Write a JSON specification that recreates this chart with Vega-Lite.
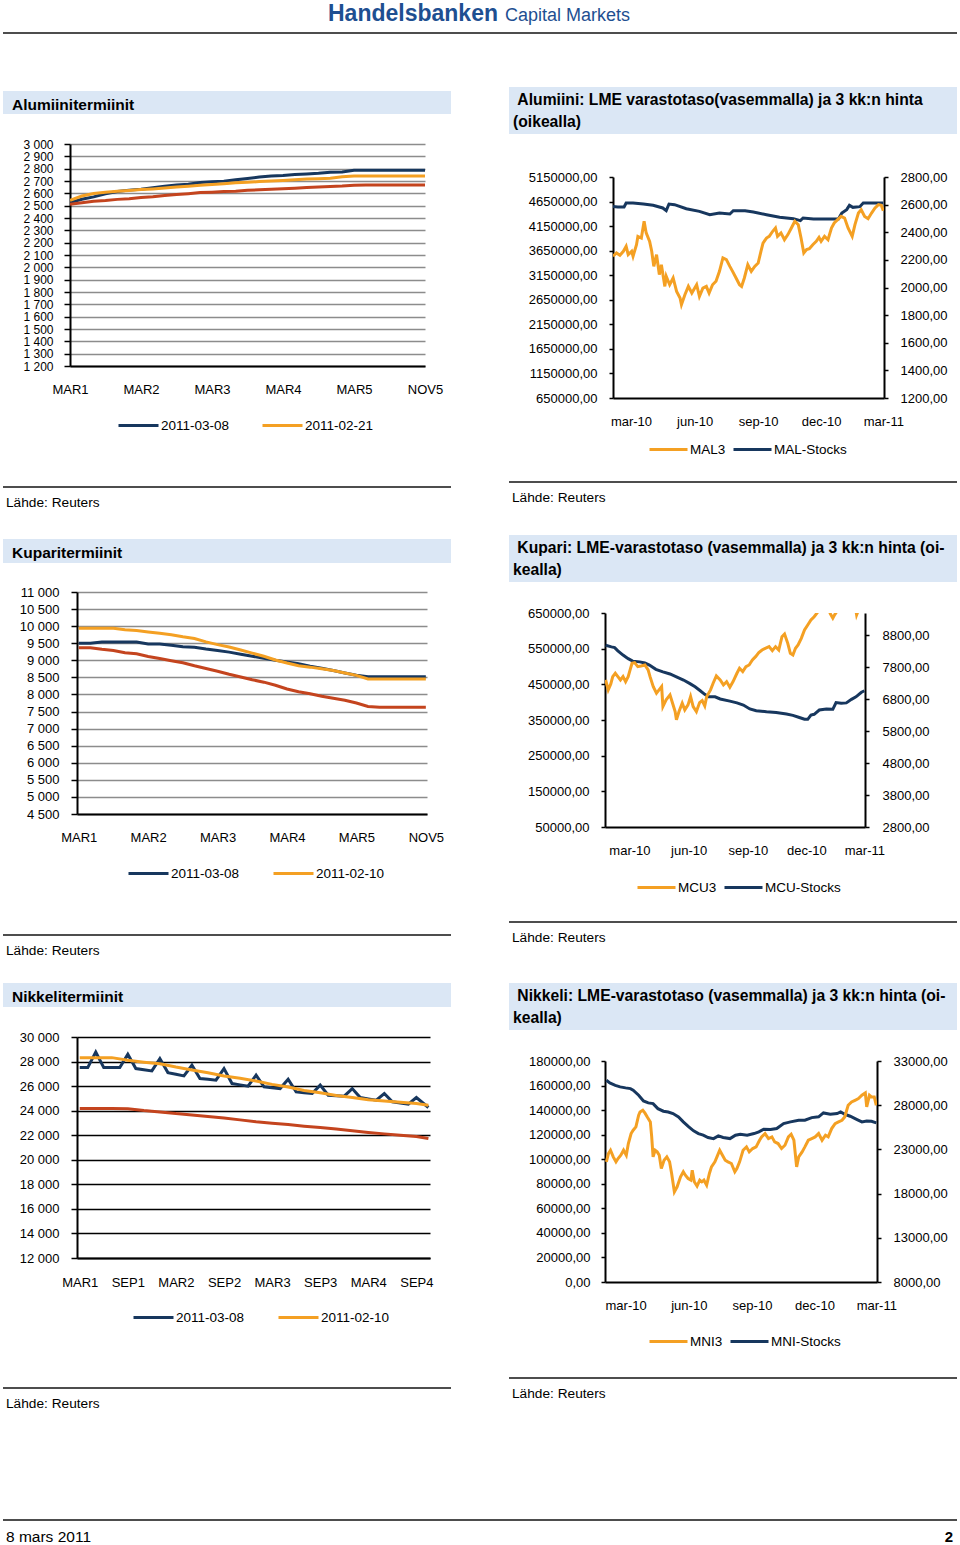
{
"$schema": "https://vega.github.io/schema/vega-lite/v6.json",
"padding": 0,
"background": "white",
"spacing": 0,
"bounds": "flush",
"resolve": {"scale": {"color": "independent"}, "legend": {"color": "independent"}},
"config": {
  "view": {"stroke": null},
  "font": "Liberation Sans",
  "axis": {"labelFont": "Liberation Sans", "labelColor": "#000", "labelFontSize": 13, "domainColor": "#000", "domainWidth": 2, "tickColor": "#000", "tickWidth": 1.5, "labelFlush": false, "labelOverlap": false, "grid": false},
  "legend": {"labelFont": "Liberation Sans", "labelFontSize": 13.5, "labelColor": "#000", "symbolType": "stroke", "symbolStrokeWidth": 3, "padding": 0, "labelOffset": 1, "orient": "none", "direction": "horizontal"},
  "title": {"font": "Liberation Sans", "color": "#000", "orient": "bottom", "anchor": "start", "baseline": "top"}
},
"datasets": {
  "alL": [
    {"i":0,"v":2525,"s":"2011-03-08"},{"i":2,"v":2552,"s":"2011-03-08"},{"i":4,"v":2571,"s":"2011-03-08"},{"i":6,"v":2596,"s":"2011-03-08"},{"i":8,"v":2614,"s":"2011-03-08"},{"i":10,"v":2626,"s":"2011-03-08"},{"i":12,"v":2634,"s":"2011-03-08"},{"i":14,"v":2645,"s":"2011-03-08"},{"i":16,"v":2657,"s":"2011-03-08"},{"i":18,"v":2667,"s":"2011-03-08"},{"i":20,"v":2674,"s":"2011-03-08"},{"i":22,"v":2687,"s":"2011-03-08"},{"i":24,"v":2694,"s":"2011-03-08"},{"i":26,"v":2699,"s":"2011-03-08"},{"i":28,"v":2710,"s":"2011-03-08"},{"i":30,"v":2720,"s":"2011-03-08"},{"i":32,"v":2732,"s":"2011-03-08"},{"i":34,"v":2741,"s":"2011-03-08"},{"i":36,"v":2745,"s":"2011-03-08"},{"i":38,"v":2752,"s":"2011-03-08"},{"i":40,"v":2757,"s":"2011-03-08"},{"i":42,"v":2762,"s":"2011-03-08"},{"i":44,"v":2770,"s":"2011-03-08"},{"i":46,"v":2773,"s":"2011-03-08"},{"i":48,"v":2787,"s":"2011-03-08"},{"i":60,"v":2787,"s":"2011-03-08"},
    {"i":0,"v":2544,"s":"2011-02-21"},{"i":2,"v":2578,"s":"2011-02-21"},{"i":4,"v":2598,"s":"2011-02-21"},{"i":6,"v":2609,"s":"2011-02-21"},{"i":8,"v":2617,"s":"2011-02-21"},{"i":10,"v":2623,"s":"2011-02-21"},{"i":12,"v":2631,"s":"2011-02-21"},{"i":14,"v":2636,"s":"2011-02-21"},{"i":16,"v":2643,"s":"2011-02-21"},{"i":18,"v":2651,"s":"2011-02-21"},{"i":20,"v":2657,"s":"2011-02-21"},{"i":22,"v":2665,"s":"2011-02-21"},{"i":24,"v":2671,"s":"2011-02-21"},{"i":26,"v":2677,"s":"2011-02-21"},{"i":28,"v":2685,"s":"2011-02-21"},{"i":30,"v":2690,"s":"2011-02-21"},{"i":32,"v":2695,"s":"2011-02-21"},{"i":34,"v":2700,"s":"2011-02-21"},{"i":36,"v":2705,"s":"2011-02-21"},{"i":38,"v":2711,"s":"2011-02-21"},{"i":40,"v":2717,"s":"2011-02-21"},{"i":42,"v":2719,"s":"2011-02-21"},{"i":44,"v":2723,"s":"2011-02-21"},{"i":46,"v":2735,"s":"2011-02-21"},{"i":48,"v":2741,"s":"2011-02-21"},{"i":60,"v":2741,"s":"2011-02-21"},
    {"i":0,"v":2511,"s":"ref"},{"i":2,"v":2524,"s":"ref"},{"i":4,"v":2535,"s":"ref"},{"i":6,"v":2541,"s":"ref"},{"i":8,"v":2551,"s":"ref"},{"i":10,"v":2557,"s":"ref"},{"i":12,"v":2566,"s":"ref"},{"i":14,"v":2572,"s":"ref"},{"i":16,"v":2582,"s":"ref"},{"i":18,"v":2590,"s":"ref"},{"i":20,"v":2597,"s":"ref"},{"i":22,"v":2606,"s":"ref"},{"i":24,"v":2609,"s":"ref"},{"i":26,"v":2614,"s":"ref"},{"i":28,"v":2617,"s":"ref"},{"i":30,"v":2625,"s":"ref"},{"i":32,"v":2629,"s":"ref"},{"i":34,"v":2634,"s":"ref"},{"i":36,"v":2638,"s":"ref"},{"i":38,"v":2642,"s":"ref"},{"i":40,"v":2647,"s":"ref"},{"i":42,"v":2652,"s":"ref"},{"i":44,"v":2655,"s":"ref"},{"i":46,"v":2659,"s":"ref"},{"i":48,"v":2666,"s":"ref"},{"i":50,"v":2668,"s":"ref"},{"i":60,"v":2668,"s":"ref"}
  ],
  "cuL": [
    {"i":0,"v":9497,"s":"2011-03-08"},{"i":2,"v":9497,"s":"2011-03-08"},{"i":4,"v":9536,"s":"2011-03-08"},{"i":10,"v":9536,"s":"2011-03-08"},{"i":12,"v":9477,"s":"2011-03-08"},{"i":14,"v":9477,"s":"2011-03-08"},{"i":16,"v":9440,"s":"2011-03-08"},{"i":18,"v":9400,"s":"2011-03-08"},{"i":20,"v":9380,"s":"2011-03-08"},{"i":22,"v":9330,"s":"2011-03-08"},{"i":24,"v":9290,"s":"2011-03-08"},{"i":26,"v":9240,"s":"2011-03-08"},{"i":28,"v":9180,"s":"2011-03-08"},{"i":30,"v":9120,"s":"2011-03-08"},{"i":32,"v":9060,"s":"2011-03-08"},{"i":34,"v":9000,"s":"2011-03-08"},{"i":36,"v":8950,"s":"2011-03-08"},{"i":38,"v":8900,"s":"2011-03-08"},{"i":40,"v":8830,"s":"2011-03-08"},{"i":42,"v":8770,"s":"2011-03-08"},{"i":44,"v":8700,"s":"2011-03-08"},{"i":46,"v":8630,"s":"2011-03-08"},{"i":48,"v":8560,"s":"2011-03-08"},{"i":50,"v":8521,"s":"2011-03-08"},{"i":60,"v":8521,"s":"2011-03-08"},
    {"i":0,"v":9936,"s":"2011-02-10"},{"i":6,"v":9936,"s":"2011-02-10"},{"i":8,"v":9895,"s":"2011-02-10"},{"i":10,"v":9870,"s":"2011-02-10"},{"i":12,"v":9830,"s":"2011-02-10"},{"i":14,"v":9790,"s":"2011-02-10"},{"i":16,"v":9750,"s":"2011-02-10"},{"i":18,"v":9690,"s":"2011-02-10"},{"i":20,"v":9640,"s":"2011-02-10"},{"i":22,"v":9540,"s":"2011-02-10"},{"i":24,"v":9460,"s":"2011-02-10"},{"i":26,"v":9390,"s":"2011-02-10"},{"i":28,"v":9300,"s":"2011-02-10"},{"i":30,"v":9210,"s":"2011-02-10"},{"i":32,"v":9120,"s":"2011-02-10"},{"i":34,"v":9010,"s":"2011-02-10"},{"i":36,"v":8920,"s":"2011-02-10"},{"i":38,"v":8840,"s":"2011-02-10"},{"i":40,"v":8800,"s":"2011-02-10"},{"i":42,"v":8750,"s":"2011-02-10"},{"i":44,"v":8700,"s":"2011-02-10"},{"i":46,"v":8630,"s":"2011-02-10"},{"i":48,"v":8560,"s":"2011-02-10"},{"i":50,"v":8453,"s":"2011-02-10"},{"i":60,"v":8453,"s":"2011-02-10"},
    {"i":0,"v":9370,"s":"ref"},{"i":2,"v":9370,"s":"ref"},{"i":4,"v":9321,"s":"ref"},{"i":6,"v":9290,"s":"ref"},{"i":8,"v":9224,"s":"ref"},{"i":10,"v":9190,"s":"ref"},{"i":12,"v":9110,"s":"ref"},{"i":14,"v":9050,"s":"ref"},{"i":16,"v":8990,"s":"ref"},{"i":18,"v":8930,"s":"ref"},{"i":20,"v":8840,"s":"ref"},{"i":22,"v":8760,"s":"ref"},{"i":24,"v":8680,"s":"ref"},{"i":26,"v":8590,"s":"ref"},{"i":28,"v":8510,"s":"ref"},{"i":30,"v":8430,"s":"ref"},{"i":32,"v":8360,"s":"ref"},{"i":34,"v":8270,"s":"ref"},{"i":36,"v":8160,"s":"ref"},{"i":38,"v":8080,"s":"ref"},{"i":40,"v":8020,"s":"ref"},{"i":42,"v":7950,"s":"ref"},{"i":44,"v":7890,"s":"ref"},{"i":46,"v":7830,"s":"ref"},{"i":48,"v":7750,"s":"ref"},{"i":50,"v":7650,"s":"ref"},{"i":52,"v":7623,"s":"ref"},{"i":60,"v":7623,"s":"ref"}
  ],
  "niL": [
    {"i":0,"v":27510,"s":"2011-03-08"},{"i":1,"v":27510,"s":"2011-03-08"},{"i":2,"v":28780,"s":"2011-03-08"},{"i":3,"v":27510,"s":"2011-03-08"},{"i":5,"v":27510,"s":"2011-03-08"},{"i":6,"v":28590,"s":"2011-03-08"},{"i":7,"v":27430,"s":"2011-03-08"},{"i":8,"v":27330,"s":"2011-03-08"},{"i":9,"v":27240,"s":"2011-03-08"},{"i":10,"v":28240,"s":"2011-03-08"},{"i":11,"v":27100,"s":"2011-03-08"},{"i":12,"v":26970,"s":"2011-03-08"},{"i":13,"v":26830,"s":"2011-03-08"},{"i":14,"v":27700,"s":"2011-03-08"},{"i":15,"v":26620,"s":"2011-03-08"},{"i":16,"v":26550,"s":"2011-03-08"},{"i":17,"v":26480,"s":"2011-03-08"},{"i":18,"v":27430,"s":"2011-03-08"},{"i":19,"v":26210,"s":"2011-03-08"},{"i":20,"v":26100,"s":"2011-03-08"},{"i":21,"v":25990,"s":"2011-03-08"},{"i":22,"v":26890,"s":"2011-03-08"},{"i":23,"v":25940,"s":"2011-03-08"},{"i":24,"v":25870,"s":"2011-03-08"},{"i":25,"v":25800,"s":"2011-03-08"},{"i":26,"v":26560,"s":"2011-03-08"},{"i":27,"v":25530,"s":"2011-03-08"},{"i":28,"v":25460,"s":"2011-03-08"},{"i":29,"v":25400,"s":"2011-03-08"},{"i":30,"v":26080,"s":"2011-03-08"},{"i":31,"v":25260,"s":"2011-03-08"},{"i":32,"v":25220,"s":"2011-03-08"},{"i":33,"v":25180,"s":"2011-03-08"},{"i":34,"v":25800,"s":"2011-03-08"},{"i":35,"v":25070,"s":"2011-03-08"},{"i":36,"v":24960,"s":"2011-03-08"},{"i":37,"v":24860,"s":"2011-03-08"},{"i":38,"v":25400,"s":"2011-03-08"},{"i":39,"v":24720,"s":"2011-03-08"},{"i":40,"v":24620,"s":"2011-03-08"},{"i":41,"v":24530,"s":"2011-03-08"},{"i":42,"v":25070,"s":"2011-03-08"},{"i":43.5,"v":24260,"s":"2011-03-08"},
    {"i":0,"v":28320,"s":"2011-02-10"},{"i":4,"v":28320,"s":"2011-02-10"},{"i":6,"v":28100,"s":"2011-02-10"},{"i":8,"v":27950,"s":"2011-02-10"},{"i":10,"v":27820,"s":"2011-02-10"},{"i":12,"v":27550,"s":"2011-02-10"},{"i":14,"v":27320,"s":"2011-02-10"},{"i":16,"v":27090,"s":"2011-02-10"},{"i":18,"v":26820,"s":"2011-02-10"},{"i":20,"v":26640,"s":"2011-02-10"},{"i":22,"v":26420,"s":"2011-02-10"},{"i":24,"v":26140,"s":"2011-02-10"},{"i":26,"v":25920,"s":"2011-02-10"},{"i":28,"v":25640,"s":"2011-02-10"},{"i":30,"v":25460,"s":"2011-02-10"},{"i":32,"v":25230,"s":"2011-02-10"},{"i":34,"v":25080,"s":"2011-02-10"},{"i":36,"v":24890,"s":"2011-02-10"},{"i":38,"v":24780,"s":"2011-02-10"},{"i":40,"v":24680,"s":"2011-02-10"},{"i":42,"v":24580,"s":"2011-02-10"},{"i":43.5,"v":24450,"s":"2011-02-10"},
    {"i":0,"v":24180,"s":"ref"},{"i":4,"v":24180,"s":"ref"},{"i":6,"v":24150,"s":"ref"},{"i":8,"v":24010,"s":"ref"},{"i":10,"v":23900,"s":"ref"},{"i":12,"v":23760,"s":"ref"},{"i":14,"v":23650,"s":"ref"},{"i":16,"v":23530,"s":"ref"},{"i":18,"v":23400,"s":"ref"},{"i":20,"v":23250,"s":"ref"},{"i":22,"v":23100,"s":"ref"},{"i":24,"v":22980,"s":"ref"},{"i":26,"v":22880,"s":"ref"},{"i":28,"v":22740,"s":"ref"},{"i":30,"v":22620,"s":"ref"},{"i":32,"v":22500,"s":"ref"},{"i":34,"v":22370,"s":"ref"},{"i":36,"v":22230,"s":"ref"},{"i":38,"v":22110,"s":"ref"},{"i":40,"v":22000,"s":"ref"},{"i":42,"v":21900,"s":"ref"},{"i":43.5,"v":21740,"s":"ref"}
  ],
  "alR": [
    {"d":"2010-02-03","v":4550000,"s":"MAL-Stocks"},{"d":"2010-02-10","v":4539000,"s":"MAL-Stocks"},{"d":"2010-02-19","v":4540000,"s":"MAL-Stocks"},{"d":"2010-02-22","v":4620000,"s":"MAL-Stocks"},{"d":"2010-03-04","v":4620000,"s":"MAL-Stocks"},{"d":"2010-03-19","v":4600000,"s":"MAL-Stocks"},{"d":"2010-04-02","v":4573000,"s":"MAL-Stocks"},{"d":"2010-04-16","v":4519000,"s":"MAL-Stocks"},{"d":"2010-04-21","v":4464000,"s":"MAL-Stocks"},{"d":"2010-04-25","v":4600000,"s":"MAL-Stocks"},{"d":"2010-05-03","v":4587000,"s":"MAL-Stocks"},{"d":"2010-05-20","v":4505000,"s":"MAL-Stocks"},{"d":"2010-06-08","v":4451000,"s":"MAL-Stocks"},{"d":"2010-06-23","v":4383000,"s":"MAL-Stocks"},{"d":"2010-07-07","v":4417000,"s":"MAL-Stocks"},{"d":"2010-07-22","v":4397000,"s":"MAL-Stocks"},{"d":"2010-07-27","v":4464000,"s":"MAL-Stocks"},{"d":"2010-08-13","v":4464000,"s":"MAL-Stocks"},{"d":"2010-08-25","v":4437000,"s":"MAL-Stocks"},{"d":"2010-09-13","v":4383000,"s":"MAL-Stocks"},{"d":"2010-10-02","v":4329000,"s":"MAL-Stocks"},{"d":"2010-10-22","v":4302000,"s":"MAL-Stocks"},{"d":"2010-11-01","v":4261000,"s":"MAL-Stocks"},{"d":"2010-11-05","v":4315000,"s":"MAL-Stocks"},{"d":"2010-11-20","v":4295000,"s":"MAL-Stocks"},{"d":"2010-12-26","v":4295000,"s":"MAL-Stocks"},{"d":"2010-12-31","v":4417000,"s":"MAL-Stocks"},{"d":"2011-01-07","v":4485000,"s":"MAL-Stocks"},{"d":"2011-01-11","v":4573000,"s":"MAL-Stocks"},{"d":"2011-01-16","v":4532000,"s":"MAL-Stocks"},{"d":"2011-01-26","v":4546000,"s":"MAL-Stocks"},{"d":"2011-01-31","v":4620000,"s":"MAL-Stocks"},{"d":"2011-03-01","v":4620000,"s":"MAL-Stocks"},
    {"d":"2010-02-03","v":2226,"s":"MAL3"},{"d":"2010-02-08","v":2250,"s":"MAL3"},{"d":"2010-02-13","v":2233,"s":"MAL3"},{"d":"2010-02-18","v":2262,"s":"MAL3"},{"d":"2010-02-22","v":2298,"s":"MAL3"},{"d":"2010-02-25","v":2238,"s":"MAL3"},{"d":"2010-03-02","v":2262,"s":"MAL3"},{"d":"2010-03-04","v":2226,"s":"MAL3"},{"d":"2010-03-09","v":2310,"s":"MAL3"},{"d":"2010-03-11","v":2370,"s":"MAL3"},{"d":"2010-03-16","v":2358,"s":"MAL3"},{"d":"2010-03-20","v":2479,"s":"MAL3"},{"d":"2010-03-23","v":2395,"s":"MAL3"},{"d":"2010-03-28","v":2334,"s":"MAL3"},{"d":"2010-03-31","v":2262,"s":"MAL3"},{"d":"2010-04-03","v":2153,"s":"MAL3"},{"d":"2010-04-07","v":2238,"s":"MAL3"},{"d":"2010-04-11","v":2093,"s":"MAL3"},{"d":"2010-04-14","v":2165,"s":"MAL3"},{"d":"2010-04-19","v":2008,"s":"MAL3"},{"d":"2010-04-21","v":2081,"s":"MAL3"},{"d":"2010-04-26","v":2020,"s":"MAL3"},{"d":"2010-05-01","v":2069,"s":"MAL3"},{"d":"2010-05-06","v":1972,"s":"MAL3"},{"d":"2010-05-11","v":1924,"s":"MAL3"},{"d":"2010-05-13","v":1876,"s":"MAL3"},{"d":"2010-05-18","v":1948,"s":"MAL3"},{"d":"2010-05-23","v":2008,"s":"MAL3"},{"d":"2010-05-28","v":1960,"s":"MAL3"},{"d":"2010-06-04","v":2020,"s":"MAL3"},{"d":"2010-06-08","v":1936,"s":"MAL3"},{"d":"2010-06-13","v":1996,"s":"MAL3"},{"d":"2010-06-18","v":2008,"s":"MAL3"},{"d":"2010-06-22","v":1960,"s":"MAL3"},{"d":"2010-06-27","v":2020,"s":"MAL3"},{"d":"2010-07-02","v":2045,"s":"MAL3"},{"d":"2010-07-07","v":2117,"s":"MAL3"},{"d":"2010-07-12","v":2214,"s":"MAL3"},{"d":"2010-07-17","v":2202,"s":"MAL3"},{"d":"2010-07-22","v":2153,"s":"MAL3"},{"d":"2010-07-26","v":2117,"s":"MAL3"},{"d":"2010-07-31","v":2069,"s":"MAL3"},{"d":"2010-08-05","v":2020,"s":"MAL3"},{"d":"2010-08-08","v":2008,"s":"MAL3"},{"d":"2010-08-12","v":2069,"s":"MAL3"},{"d":"2010-08-17","v":2165,"s":"MAL3"},{"d":"2010-08-22","v":2117,"s":"MAL3"},{"d":"2010-08-27","v":2153,"s":"MAL3"},{"d":"2010-09-01","v":2177,"s":"MAL3"},{"d":"2010-09-05","v":2262,"s":"MAL3"},{"d":"2010-09-08","v":2322,"s":"MAL3"},{"d":"2010-09-13","v":2358,"s":"MAL3"},{"d":"2010-09-17","v":2370,"s":"MAL3"},{"d":"2010-09-22","v":2407,"s":"MAL3"},{"d":"2010-09-26","v":2431,"s":"MAL3"},{"d":"2010-09-29","v":2370,"s":"MAL3"},{"d":"2010-10-04","v":2395,"s":"MAL3"},{"d":"2010-10-09","v":2346,"s":"MAL3"},{"d":"2010-10-14","v":2383,"s":"MAL3"},{"d":"2010-10-19","v":2431,"s":"MAL3"},{"d":"2010-10-24","v":2479,"s":"MAL3"},{"d":"2010-10-29","v":2455,"s":"MAL3"},{"d":"2010-11-02","v":2358,"s":"MAL3"},{"d":"2010-11-06","v":2250,"s":"MAL3"},{"d":"2010-11-10","v":2274,"s":"MAL3"},{"d":"2010-11-14","v":2281,"s":"MAL3"},{"d":"2010-11-19","v":2310,"s":"MAL3"},{"d":"2010-11-24","v":2334,"s":"MAL3"},{"d":"2010-11-28","v":2363,"s":"MAL3"},{"d":"2010-12-01","v":2334,"s":"MAL3"},{"d":"2010-12-06","v":2370,"s":"MAL3"},{"d":"2010-12-11","v":2346,"s":"MAL3"},{"d":"2010-12-16","v":2431,"s":"MAL3"},{"d":"2010-12-20","v":2467,"s":"MAL3"},{"d":"2010-12-25","v":2491,"s":"MAL3"},{"d":"2010-12-30","v":2515,"s":"MAL3"},{"d":"2011-01-04","v":2503,"s":"MAL3"},{"d":"2011-01-09","v":2431,"s":"MAL3"},{"d":"2011-01-15","v":2370,"s":"MAL3"},{"d":"2011-01-19","v":2455,"s":"MAL3"},{"d":"2011-01-24","v":2539,"s":"MAL3"},{"d":"2011-01-28","v":2563,"s":"MAL3"},{"d":"2011-02-02","v":2515,"s":"MAL3"},{"d":"2011-02-07","v":2498,"s":"MAL3"},{"d":"2011-02-12","v":2539,"s":"MAL3"},{"d":"2011-02-17","v":2576,"s":"MAL3"},{"d":"2011-02-22","v":2600,"s":"MAL3"},{"d":"2011-02-26","v":2595,"s":"MAL3"},{"d":"2011-03-01","v":2556,"s":"MAL3"}
  ],
  "cuR": [
    {"d":"2010-01-23","v":559600,"s":"MCU-Stocks"},{"d":"2010-02-01","v":555000,"s":"MCU-Stocks"},{"d":"2010-02-06","v":553000,"s":"MCU-Stocks"},{"d":"2010-02-11","v":544000,"s":"MCU-Stocks"},{"d":"2010-02-19","v":532000,"s":"MCU-Stocks"},{"d":"2010-02-27","v":522000,"s":"MCU-Stocks"},{"d":"2010-03-06","v":515000,"s":"MCU-Stocks"},{"d":"2010-03-17","v":513000,"s":"MCU-Stocks"},{"d":"2010-03-25","v":510000,"s":"MCU-Stocks"},{"d":"2010-04-01","v":504000,"s":"MCU-Stocks"},{"d":"2010-04-11","v":492000,"s":"MCU-Stocks"},{"d":"2010-04-22","v":485000,"s":"MCU-Stocks"},{"d":"2010-05-03","v":479000,"s":"MCU-Stocks"},{"d":"2010-05-13","v":471000,"s":"MCU-Stocks"},{"d":"2010-05-24","v":462000,"s":"MCU-Stocks"},{"d":"2010-06-03","v":452000,"s":"MCU-Stocks"},{"d":"2010-06-11","v":443000,"s":"MCU-Stocks"},{"d":"2010-06-19","v":432000,"s":"MCU-Stocks"},{"d":"2010-06-26","v":422000,"s":"MCU-Stocks"},{"d":"2010-07-02","v":415000,"s":"MCU-Stocks"},{"d":"2010-07-12","v":415000,"s":"MCU-Stocks"},{"d":"2010-07-20","v":409000,"s":"MCU-Stocks"},{"d":"2010-08-04","v":403000,"s":"MCU-Stocks"},{"d":"2010-08-15","v":398000,"s":"MCU-Stocks"},{"d":"2010-08-25","v":392000,"s":"MCU-Stocks"},{"d":"2010-09-04","v":381000,"s":"MCU-Stocks"},{"d":"2010-09-14","v":376000,"s":"MCU-Stocks"},{"d":"2010-09-30","v":373000,"s":"MCU-Stocks"},{"d":"2010-10-15","v":371000,"s":"MCU-Stocks"},{"d":"2010-10-31","v":367000,"s":"MCU-Stocks"},{"d":"2010-11-10","v":363000,"s":"MCU-Stocks"},{"d":"2010-11-20","v":357000,"s":"MCU-Stocks"},{"d":"2010-11-28","v":352000,"s":"MCU-Stocks"},{"d":"2010-12-03","v":352000,"s":"MCU-Stocks"},{"d":"2010-12-08","v":364000,"s":"MCU-Stocks"},{"d":"2010-12-13","v":366000,"s":"MCU-Stocks"},{"d":"2010-12-21","v":378000,"s":"MCU-Stocks"},{"d":"2011-01-01","v":381000,"s":"MCU-Stocks"},{"d":"2011-01-11","v":380000,"s":"MCU-Stocks"},{"d":"2011-01-16","v":399000,"s":"MCU-Stocks"},{"d":"2011-01-24","v":397000,"s":"MCU-Stocks"},{"d":"2011-02-01","v":398000,"s":"MCU-Stocks"},{"d":"2011-02-09","v":408000,"s":"MCU-Stocks"},{"d":"2011-02-16","v":415000,"s":"MCU-Stocks"},{"d":"2011-02-24","v":427000,"s":"MCU-Stocks"},{"d":"2011-03-01","v":432000,"s":"MCU-Stocks"},
    {"d":"2010-01-23","v":7404,"s":"MCU3"},{"d":"2010-01-27","v":7092,"s":"MCU3"},{"d":"2010-01-31","v":7279,"s":"MCU3"},{"d":"2010-02-03","v":7508,"s":"MCU3"},{"d":"2010-02-07","v":7613,"s":"MCU3"},{"d":"2010-02-11","v":7508,"s":"MCU3"},{"d":"2010-02-15","v":7404,"s":"MCU3"},{"d":"2010-02-19","v":7508,"s":"MCU3"},{"d":"2010-02-23","v":7352,"s":"MCU3"},{"d":"2010-02-27","v":7508,"s":"MCU3"},{"d":"2010-03-02","v":7717,"s":"MCU3"},{"d":"2010-03-05","v":7925,"s":"MCU3"},{"d":"2010-03-09","v":7946,"s":"MCU3"},{"d":"2010-03-14","v":7821,"s":"MCU3"},{"d":"2010-03-19","v":7842,"s":"MCU3"},{"d":"2010-03-25","v":7873,"s":"MCU3"},{"d":"2010-03-30","v":7717,"s":"MCU3"},{"d":"2010-04-02","v":7508,"s":"MCU3"},{"d":"2010-04-07","v":7196,"s":"MCU3"},{"d":"2010-04-12","v":6988,"s":"MCU3"},{"d":"2010-04-16","v":7092,"s":"MCU3"},{"d":"2010-04-20","v":7196,"s":"MCU3"},{"d":"2010-04-22","v":6571,"s":"MCU3"},{"d":"2010-04-27","v":6779,"s":"MCU3"},{"d":"2010-05-03","v":6936,"s":"MCU3"},{"d":"2010-05-07","v":6675,"s":"MCU3"},{"d":"2010-05-11","v":6415,"s":"MCU3"},{"d":"2010-05-13","v":6154,"s":"MCU3"},{"d":"2010-05-17","v":6415,"s":"MCU3"},{"d":"2010-05-22","v":6675,"s":"MCU3"},{"d":"2010-05-26","v":6467,"s":"MCU3"},{"d":"2010-05-31","v":6623,"s":"MCU3"},{"d":"2010-06-04","v":6883,"s":"MCU3"},{"d":"2010-06-08","v":6571,"s":"MCU3"},{"d":"2010-06-13","v":6415,"s":"MCU3"},{"d":"2010-06-18","v":6696,"s":"MCU3"},{"d":"2010-06-22","v":6758,"s":"MCU3"},{"d":"2010-06-26","v":6592,"s":"MCU3"},{"d":"2010-06-29","v":6883,"s":"MCU3"},{"d":"2010-07-05","v":7092,"s":"MCU3"},{"d":"2010-07-09","v":7300,"s":"MCU3"},{"d":"2010-07-14","v":7529,"s":"MCU3"},{"d":"2010-07-20","v":7404,"s":"MCU3"},{"d":"2010-07-25","v":7248,"s":"MCU3"},{"d":"2010-07-30","v":7352,"s":"MCU3"},{"d":"2010-08-04","v":7175,"s":"MCU3"},{"d":"2010-08-09","v":7352,"s":"MCU3"},{"d":"2010-08-15","v":7613,"s":"MCU3"},{"d":"2010-08-19","v":7769,"s":"MCU3"},{"d":"2010-08-24","v":7665,"s":"MCU3"},{"d":"2010-08-29","v":7821,"s":"MCU3"},{"d":"2010-09-03","v":7873,"s":"MCU3"},{"d":"2010-09-08","v":8029,"s":"MCU3"},{"d":"2010-09-13","v":8133,"s":"MCU3"},{"d":"2010-09-18","v":8258,"s":"MCU3"},{"d":"2010-09-23","v":8342,"s":"MCU3"},{"d":"2010-09-28","v":8394,"s":"MCU3"},{"d":"2010-10-04","v":8446,"s":"MCU3"},{"d":"2010-10-09","v":8321,"s":"MCU3"},{"d":"2010-10-14","v":8446,"s":"MCU3"},{"d":"2010-10-19","v":8342,"s":"MCU3"},{"d":"2010-10-24","v":8758,"s":"MCU3"},{"d":"2010-10-28","v":8842,"s":"MCU3"},{"d":"2010-11-02","v":8550,"s":"MCU3"},{"d":"2010-11-06","v":8238,"s":"MCU3"},{"d":"2010-11-10","v":8186,"s":"MCU3"},{"d":"2010-11-14","v":8394,"s":"MCU3"},{"d":"2010-11-18","v":8498,"s":"MCU3"},{"d":"2010-11-23","v":8706,"s":"MCU3"},{"d":"2010-11-28","v":8967,"s":"MCU3"},{"d":"2010-12-03","v":9123,"s":"MCU3"},{"d":"2010-12-08","v":9279,"s":"MCU3"},{"d":"2010-12-13","v":9383,"s":"MCU3"},{"d":"2010-12-19","v":9540,"s":"MCU3"},{"d":"2010-12-23","v":9620,"s":"MCU3"},{"d":"2010-12-29","v":9700,"s":"MCU3"},{"d":"2011-01-04","v":9650,"s":"MCU3"},{"d":"2011-01-07","v":9480,"s":"MCU3"},{"d":"2011-01-11","v":9340,"s":"MCU3"},{"d":"2011-01-14","v":9450,"s":"MCU3"},{"d":"2011-01-19","v":9600,"s":"MCU3"},{"d":"2011-01-26","v":9700,"s":"MCU3"},{"d":"2011-02-01","v":9850,"s":"MCU3"},{"d":"2011-02-08","v":10000,"s":"MCU3"},{"d":"2011-02-14","v":9800,"s":"MCU3"},{"d":"2011-02-17","v":9440,"s":"MCU3"},{"d":"2011-02-21","v":9650,"s":"MCU3"},{"d":"2011-02-25","v":9700,"s":"MCU3"},{"d":"2011-03-01","v":9800,"s":"MCU3"}
  ],
  "niR": [
    {"d":"2010-02-01","v":164300,"s":"MNI-Stocks"},{"d":"2010-02-06","v":162100,"s":"MNI-Stocks"},{"d":"2010-02-14","v":160200,"s":"MNI-Stocks"},{"d":"2010-02-21","v":158900,"s":"MNI-Stocks"},{"d":"2010-03-01","v":158100,"s":"MNI-Stocks"},{"d":"2010-03-08","v":157500,"s":"MNI-Stocks"},{"d":"2010-03-12","v":156200,"s":"MNI-Stocks"},{"d":"2010-03-20","v":152100,"s":"MNI-Stocks"},{"d":"2010-03-27","v":147500,"s":"MNI-Stocks"},{"d":"2010-04-03","v":145900,"s":"MNI-Stocks"},{"d":"2010-04-10","v":145300,"s":"MNI-Stocks"},{"d":"2010-04-17","v":141200,"s":"MNI-Stocks"},{"d":"2010-04-25","v":139100,"s":"MNI-Stocks"},{"d":"2010-05-02","v":138500,"s":"MNI-Stocks"},{"d":"2010-05-09","v":137200,"s":"MNI-Stocks"},{"d":"2010-05-17","v":134500,"s":"MNI-Stocks"},{"d":"2010-05-24","v":130400,"s":"MNI-Stocks"},{"d":"2010-06-01","v":126300,"s":"MNI-Stocks"},{"d":"2010-06-08","v":123100,"s":"MNI-Stocks"},{"d":"2010-06-15","v":120900,"s":"MNI-Stocks"},{"d":"2010-06-22","v":119600,"s":"MNI-Stocks"},{"d":"2010-06-29","v":117700,"s":"MNI-Stocks"},{"d":"2010-07-07","v":116800,"s":"MNI-Stocks"},{"d":"2010-07-14","v":119000,"s":"MNI-Stocks"},{"d":"2010-07-21","v":117700,"s":"MNI-Stocks"},{"d":"2010-07-31","v":116800,"s":"MNI-Stocks"},{"d":"2010-08-08","v":119600,"s":"MNI-Stocks"},{"d":"2010-08-15","v":120400,"s":"MNI-Stocks"},{"d":"2010-08-25","v":119600,"s":"MNI-Stocks"},{"d":"2010-09-04","v":120900,"s":"MNI-Stocks"},{"d":"2010-09-11","v":122300,"s":"MNI-Stocks"},{"d":"2010-09-18","v":124400,"s":"MNI-Stocks"},{"d":"2010-09-28","v":124200,"s":"MNI-Stocks"},{"d":"2010-10-07","v":125000,"s":"MNI-Stocks"},{"d":"2010-10-17","v":129000,"s":"MNI-Stocks"},{"d":"2010-10-27","v":130400,"s":"MNI-Stocks"},{"d":"2010-11-08","v":131800,"s":"MNI-Stocks"},{"d":"2010-11-17","v":131800,"s":"MNI-Stocks"},{"d":"2010-11-27","v":133900,"s":"MNI-Stocks"},{"d":"2010-12-07","v":134500,"s":"MNI-Stocks"},{"d":"2010-12-14","v":137700,"s":"MNI-Stocks"},{"d":"2010-12-24","v":136600,"s":"MNI-Stocks"},{"d":"2011-01-03","v":137200,"s":"MNI-Stocks"},{"d":"2011-01-08","v":138500,"s":"MNI-Stocks"},{"d":"2011-01-15","v":136400,"s":"MNI-Stocks"},{"d":"2011-01-22","v":135000,"s":"MNI-Stocks"},{"d":"2011-02-01","v":132300,"s":"MNI-Stocks"},{"d":"2011-02-08","v":130400,"s":"MNI-Stocks"},{"d":"2011-02-15","v":131200,"s":"MNI-Stocks"},{"d":"2011-02-22","v":130900,"s":"MNI-Stocks"},{"d":"2011-03-01","v":129600,"s":"MNI-Stocks"},
    {"d":"2010-02-01","v":21592,"s":"MNI3"},{"d":"2010-02-04","v":22533,"s":"MNI3"},{"d":"2010-02-07","v":22909,"s":"MNI3"},{"d":"2010-02-11","v":22156,"s":"MNI3"},{"d":"2010-02-15","v":21592,"s":"MNI3"},{"d":"2010-02-18","v":21968,"s":"MNI3"},{"d":"2010-02-22","v":22345,"s":"MNI3"},{"d":"2010-02-26","v":22909,"s":"MNI3"},{"d":"2010-03-02","v":22345,"s":"MNI3"},{"d":"2010-03-05","v":23663,"s":"MNI3"},{"d":"2010-03-09","v":24792,"s":"MNI3"},{"d":"2010-03-12","v":25168,"s":"MNI3"},{"d":"2010-03-16","v":25545,"s":"MNI3"},{"d":"2010-03-20","v":26863,"s":"MNI3"},{"d":"2010-03-22","v":27239,"s":"MNI3"},{"d":"2010-03-26","v":27427,"s":"MNI3"},{"d":"2010-03-29","v":27126,"s":"MNI3"},{"d":"2010-04-02","v":26599,"s":"MNI3"},{"d":"2010-04-06","v":26110,"s":"MNI3"},{"d":"2010-04-08","v":24415,"s":"MNI3"},{"d":"2010-04-10","v":22156,"s":"MNI3"},{"d":"2010-04-13","v":22909,"s":"MNI3"},{"d":"2010-04-16","v":22721,"s":"MNI3"},{"d":"2010-04-19","v":22345,"s":"MNI3"},{"d":"2010-04-22","v":20839,"s":"MNI3"},{"d":"2010-04-26","v":21780,"s":"MNI3"},{"d":"2010-04-30","v":22156,"s":"MNI3"},{"d":"2010-05-04","v":21592,"s":"MNI3"},{"d":"2010-05-07","v":20274,"s":"MNI3"},{"d":"2010-05-11","v":18203,"s":"MNI3"},{"d":"2010-05-15","v":18768,"s":"MNI3"},{"d":"2010-05-20","v":19897,"s":"MNI3"},{"d":"2010-05-24","v":20462,"s":"MNI3"},{"d":"2010-05-27","v":20085,"s":"MNI3"},{"d":"2010-05-31","v":19709,"s":"MNI3"},{"d":"2010-06-04","v":19521,"s":"MNI3"},{"d":"2010-06-06","v":20650,"s":"MNI3"},{"d":"2010-06-09","v":19333,"s":"MNI3"},{"d":"2010-06-13","v":18843,"s":"MNI3"},{"d":"2010-06-17","v":19521,"s":"MNI3"},{"d":"2010-06-20","v":19333,"s":"MNI3"},{"d":"2010-06-23","v":19521,"s":"MNI3"},{"d":"2010-06-27","v":18956,"s":"MNI3"},{"d":"2010-07-01","v":20274,"s":"MNI3"},{"d":"2010-07-04","v":21027,"s":"MNI3"},{"d":"2010-07-09","v":21592,"s":"MNI3"},{"d":"2010-07-12","v":22156,"s":"MNI3"},{"d":"2010-07-16","v":22909,"s":"MNI3"},{"d":"2010-07-20","v":22345,"s":"MNI3"},{"d":"2010-07-24","v":21780,"s":"MNI3"},{"d":"2010-07-28","v":21592,"s":"MNI3"},{"d":"2010-08-02","v":21403,"s":"MNI3"},{"d":"2010-08-07","v":20462,"s":"MNI3"},{"d":"2010-08-10","v":20839,"s":"MNI3"},{"d":"2010-08-14","v":21592,"s":"MNI3"},{"d":"2010-08-19","v":22909,"s":"MNI3"},{"d":"2010-08-24","v":23286,"s":"MNI3"},{"d":"2010-08-28","v":22721,"s":"MNI3"},{"d":"2010-09-02","v":23098,"s":"MNI3"},{"d":"2010-09-07","v":23286,"s":"MNI3"},{"d":"2010-09-12","v":24039,"s":"MNI3"},{"d":"2010-09-15","v":24415,"s":"MNI3"},{"d":"2010-09-20","v":24792,"s":"MNI3"},{"d":"2010-09-25","v":24227,"s":"MNI3"},{"d":"2010-09-30","v":24415,"s":"MNI3"},{"d":"2010-10-04","v":23851,"s":"MNI3"},{"d":"2010-10-09","v":23663,"s":"MNI3"},{"d":"2010-10-14","v":23098,"s":"MNI3"},{"d":"2010-10-19","v":23474,"s":"MNI3"},{"d":"2010-10-24","v":24415,"s":"MNI3"},{"d":"2010-10-28","v":24717,"s":"MNI3"},{"d":"2010-11-01","v":24039,"s":"MNI3"},{"d":"2010-11-05","v":21027,"s":"MNI3"},{"d":"2010-11-08","v":22156,"s":"MNI3"},{"d":"2010-11-13","v":22721,"s":"MNI3"},{"d":"2010-11-17","v":23286,"s":"MNI3"},{"d":"2010-11-22","v":24039,"s":"MNI3"},{"d":"2010-11-27","v":24227,"s":"MNI3"},{"d":"2010-12-02","v":24415,"s":"MNI3"},{"d":"2010-12-07","v":24792,"s":"MNI3"},{"d":"2010-12-12","v":24039,"s":"MNI3"},{"d":"2010-12-17","v":24603,"s":"MNI3"},{"d":"2010-12-21","v":24415,"s":"MNI3"},{"d":"2010-12-26","v":25357,"s":"MNI3"},{"d":"2010-12-31","v":25921,"s":"MNI3"},{"d":"2011-01-05","v":26110,"s":"MNI3"},{"d":"2011-01-10","v":26298,"s":"MNI3"},{"d":"2011-01-14","v":26674,"s":"MNI3"},{"d":"2011-01-19","v":27992,"s":"MNI3"},{"d":"2011-01-24","v":28369,"s":"MNI3"},{"d":"2011-01-29","v":28557,"s":"MNI3"},{"d":"2011-02-03","v":28745,"s":"MNI3"},{"d":"2011-02-08","v":29122,"s":"MNI3"},{"d":"2011-02-13","v":29385,"s":"MNI3"},{"d":"2011-02-15","v":27804,"s":"MNI3"},{"d":"2011-02-19","v":29122,"s":"MNI3"},{"d":"2011-02-22","v":28933,"s":"MNI3"},{"d":"2011-02-26","v":28933,"s":"MNI3"},{"d":"2011-03-01","v":27992,"s":"MNI3"}
  ]
},
"hconcat": [
  {"width": 3, "height": 0, "data": {"values": []}, "mark": "point"},
  {"spacing": 0, "bounds": "flush", "resolve": {"scale": {"color": "independent"}, "legend": {"color": "independent"}}, "vconcat": [
    {"width": 497, "height": 32, "data": {"values": []}, "mark": "point", "title": {"text": "Handelsbanken", "anchor": "end", "offset": -29, "dx": -2, "fontSize": 23, "fontWeight": "bold", "color": "#1E4F91"}},
    {"width": 954, "height": 2, "data": {"values": []}, "mark": "point", "view": {"fill": "#4D4D4D", "stroke": null}},
    {"width": 0, "height": 57, "data": {"values": []}, "mark": "point"},
    {"width": 448, "height": 23, "data": {"values": []}, "mark": "point", "view": {"fill": "#DBE7F5", "stroke": null}, "title": {"text": "Alumiinitermiinit", "offset": -16.5, "dx": 9, "fontSize": 15.5, "fontWeight": "bold"}},
    {"width": 0, "height": 372, "data": {"values": []}, "mark": "point"},
    {"width": 448, "height": 2, "data": {"values": []}, "mark": "point", "view": {"fill": "#4D4D4D", "stroke": null}, "title": {"text": "Lähde: Reuters", "offset": 7.6, "dx": 3, "fontSize": 13.7, "fontWeight": "normal"}},
    {"width": 0, "height": 51, "data": {"values": []}, "mark": "point"},
    {"width": 448, "height": 24, "data": {"values": []}, "mark": "point", "view": {"fill": "#DBE7F5", "stroke": null}, "title": {"text": "Kuparitermiinit", "offset": -17.5, "dx": 9, "fontSize": 15.5, "fontWeight": "bold"}},
    {"width": 0, "height": 371, "data": {"values": []}, "mark": "point"},
    {"width": 448, "height": 2, "data": {"values": []}, "mark": "point", "view": {"fill": "#4D4D4D", "stroke": null}, "title": {"text": "Lähde: Reuters", "offset": 7.6, "dx": 3, "fontSize": 13.7, "fontWeight": "normal"}},
    {"width": 0, "height": 47, "data": {"values": []}, "mark": "point"},
    {"width": 448, "height": 24, "data": {"values": []}, "mark": "point", "view": {"fill": "#DBE7F5", "stroke": null}, "title": {"text": "Nikkelitermiinit", "offset": -17, "dx": 9, "fontSize": 15.5, "fontWeight": "bold"}},
    {"width": 0, "height": 380, "data": {"values": []}, "mark": "point"},
    {"width": 448, "height": 2, "data": {"values": []}, "mark": "point", "view": {"fill": "#4D4D4D", "stroke": null}, "title": {"text": "Lähde: Reuters", "offset": 7.6, "dx": 3, "fontSize": 13.7, "fontWeight": "normal"}},
    {"width": 0, "height": 130, "data": {"values": []}, "mark": "point"},
    {"width": 954, "height": 2, "data": {"values": []}, "mark": "point", "view": {"fill": "#4D4D4D", "stroke": null}, "title": {"text": "8 mars 2011", "offset": 8.5, "dx": 3, "fontSize": 15.5, "fontWeight": "normal"}}
  ]},
  {"width": 67, "height": 0, "data": {"values": []}, "mark": "point"},
  {"spacing": 0, "bounds": "flush", "resolve": {"scale": {"color": "independent"}, "legend": {"color": "independent"}}, "vconcat": [
    {"width": 0, "height": 144, "data": {"values": []}, "mark": "point"},
    {"width": 355, "height": 222, "data": {"name": "alL"}, "mark": {"type": "line", "strokeWidth": 3, "clip": true},
     "encoding": {
       "x": {"field": "i", "type": "quantitative", "scale": {"domain": [0, 60], "nice": false, "zero": false}, "axis": {"title": null, "values": [0, 12, 24, 36, 48, 60], "labelExpr": "['MAR1','MAR2','MAR3','MAR4','MAR5','NOV5'][round(datum.value/12)]", "ticks": false, "labelPadding": 17}},
       "y": {"field": "v", "type": "quantitative", "scale": {"domain": [1200, 3000], "nice": false, "zero": false}, "axis": {"title": null, "values": [1200, 1300, 1400, 1500, 1600, 1700, 1800, 1900, 2000, 2100, 2200, 2300, 2400, 2500, 2600, 2700, 2800, 2900, 3000], "labelExpr": "replace(format(datum.value, ','), ',', ' ')", "grid": true, "gridColor": "#8C8C8C", "gridWidth": 1.5, "tickSize": 6, "labelPadding": 11, "labelFontSize": 12}},
       "color": {"field": "s", "type": "nominal", "scale": {"domain": ["2011-03-08", "2011-02-21", "ref"], "range": ["#17375E", "#F4A023", "#C4441E"]}, "legend": {"title": null, "values": ["2011-03-08", "2011-02-21"], "legendX": 47, "legendY": 260, "symbolSize": 1600, "columnPadding": 26}}
     }}
  ]},
  {"width": 7, "height": 0, "data": {"values": []}, "mark": "point"},
  {"spacing": 0, "bounds": "flush", "resolve": {"scale": {"color": "independent"}, "legend": {"color": "independent"}}, "vconcat": [
    {"width": 0, "height": 592, "data": {"values": []}, "mark": "point"},
    {"width": 350, "height": 222, "data": {"name": "cuL"}, "mark": {"type": "line", "strokeWidth": 3, "clip": true},
     "encoding": {
       "x": {"field": "i", "type": "quantitative", "scale": {"domain": [-0.3, 60.2], "nice": false, "zero": false}, "axis": {"title": null, "values": [0, 12, 24, 36, 48, 60], "labelExpr": "['MAR1','MAR2','MAR3','MAR4','MAR5','NOV5'][round(datum.value/12)]", "ticks": false, "labelPadding": 17}},
       "y": {"field": "v", "type": "quantitative", "scale": {"domain": [4500, 11000], "nice": false, "zero": false}, "axis": {"title": null, "values": [4500, 5000, 5500, 6000, 6500, 7000, 7500, 8000, 8500, 9000, 9500, 10000, 10500, 11000], "labelExpr": "replace(format(datum.value, ','), ',', ' ')", "grid": true, "gridColor": "#8C8C8C", "gridWidth": 1.5, "tickSize": 6, "labelPadding": 12}},
       "color": {"field": "s", "type": "nominal", "scale": {"domain": ["2011-03-08", "2011-02-10", "ref"], "range": ["#17375E", "#F4A023", "#C4441E"]}, "legend": {"title": null, "values": ["2011-03-08", "2011-02-10"], "legendX": 50, "legendY": 260, "symbolSize": 1600, "columnPadding": 27}}
     }},
    {"width": 0, "height": 223, "data": {"values": []}, "mark": "point"},
    {"width": 353, "height": 221, "data": {"name": "niL"}, "mark": {"type": "line", "strokeWidth": 3, "clip": true},
     "encoding": {
       "x": {"field": "i", "type": "quantitative", "scale": {"domain": [-0.34, 43.7], "nice": false, "zero": false}, "axis": {"title": null, "values": [0, 6, 12, 18, 24, 30, 36, 42], "labelExpr": "['MAR1','SEP1','MAR2','SEP2','MAR3','SEP3','MAR4','SEP4'][round(datum.value/6)]", "ticks": false, "labelPadding": 18}},
       "y": {"field": "v", "type": "quantitative", "scale": {"domain": [12000, 30000], "nice": false, "zero": false}, "axis": {"title": null, "values": [12000, 14000, 16000, 18000, 20000, 22000, 24000, 26000, 28000, 30000], "labelExpr": "replace(format(datum.value, ','), ',', ' ')", "grid": true, "gridColor": "#000", "gridWidth": 1.5, "tickSize": 6, "labelPadding": 12}},
       "color": {"field": "s", "type": "nominal", "scale": {"domain": ["2011-03-08", "2011-02-10", "ref"], "range": ["#17375E", "#F4A023", "#C4441E"]}, "legend": {"title": null, "values": ["2011-03-08", "2011-02-10"], "legendX": 55, "legendY": 259, "symbolSize": 1600, "columnPadding": 27}}
     }}
  ]},
  {"width": 423, "height": 0, "data": {"values": []}, "mark": "point"},
  {"spacing": 0, "bounds": "flush", "vconcat": [
    {"width": 457, "height": 32, "data": {"values": []}, "mark": "point", "title": {"text": "Capital Markets", "anchor": "start", "offset": -25, "dx": 5, "fontSize": 18, "fontWeight": "normal", "color": "#1E4F91"}},
    {"width": 0, "height": 1487, "data": {"values": []}, "mark": "point"},
    {"width": 457, "height": 2, "data": {"values": []}, "mark": "point", "title": {"text": "2", "anchor": "end", "offset": 9, "dx": -4, "fontSize": 15, "fontWeight": "bold"}}
  ]},
  {"width": 9, "height": 0, "data": {"values": []}, "mark": "point"},
  {"spacing": 0, "bounds": "flush", "vconcat": [
    {"width": 0, "height": 87, "data": {"values": []}, "mark": "point"},
    {"width": 448, "height": 47, "data": {"values": []}, "mark": "point", "view": {"fill": "#DBE7F5", "stroke": null}, "title": {"text": ["\u200b\u00a0Alumiini: LME varastotaso(vasemmalla) ja 3 kk:n hinta", "(oikealla)"], "offset": -41, "dx": 4, "lineHeight": 22, "fontSize": 15.7, "fontWeight": "bold"}},
    {"width": 0, "height": 347, "data": {"values": []}, "mark": "point"},
    {"width": 448, "height": 2, "data": {"values": []}, "mark": "point", "view": {"fill": "#4D4D4D", "stroke": null}, "title": {"text": "Lähde: Reuters", "offset": 7.6, "dx": 3, "fontSize": 13.7, "fontWeight": "normal"}},
    {"width": 0, "height": 52, "data": {"values": []}, "mark": "point"},
    {"width": 448, "height": 47, "data": {"values": []}, "mark": "point", "view": {"fill": "#DBE7F5", "stroke": null}, "title": {"text": ["\u200b\u00a0Kupari: LME-varastotaso (vasemmalla) ja 3 kk:n hinta (oi-", "kealla)"], "offset": -41, "dx": 4, "lineHeight": 22, "fontSize": 15.7, "fontWeight": "bold"}},
    {"width": 0, "height": 339, "data": {"values": []}, "mark": "point"},
    {"width": 448, "height": 2, "data": {"values": []}, "mark": "point", "view": {"fill": "#4D4D4D", "stroke": null}, "title": {"text": "Lähde: Reuters", "offset": 7.6, "dx": 3, "fontSize": 13.7, "fontWeight": "normal"}},
    {"width": 0, "height": 60, "data": {"values": []}, "mark": "point"},
    {"width": 448, "height": 47, "data": {"values": []}, "mark": "point", "view": {"fill": "#DBE7F5", "stroke": null}, "title": {"text": ["\u200b\u00a0Nikkeli: LME-varastotaso (vasemmalla) ja 3 kk:n hinta (oi-", "kealla)"], "offset": -41, "dx": 4, "lineHeight": 22, "fontSize": 15.7, "fontWeight": "bold"}},
    {"width": 0, "height": 347, "data": {"values": []}, "mark": "point"},
    {"width": 448, "height": 2, "data": {"values": []}, "mark": "point", "view": {"fill": "#4D4D4D", "stroke": null}, "title": {"text": "Lähde: Reuters", "offset": 7.6, "dx": 3, "fontSize": 13.7, "fontWeight": "normal"}}
  ]},
  {"width": 96, "height": 0, "data": {"values": []}, "mark": "point"},
  {"spacing": 0, "bounds": "flush", "resolve": {"scale": {"color": "independent"}, "legend": {"color": "independent"}}, "vconcat": [
    {"width": 0, "height": 613, "data": {"values": []}, "mark": "point"},
    {"width": 260, "height": 214, "data": {"name": "cuR"},
     "encoding": {"x": {"field": "d", "type": "temporal", "scale": {"type": "utc", "domain": [{"year": 2010, "month": 1, "date": 22, "utc": true}, {"year": 2011, "month": 3, "date": 2, "utc": true}]}, "axis": {"title": null, "values": [{"year": 2010, "month": 3, "date": 1, "utc": true}, {"year": 2010, "month": 6, "date": 1, "utc": true}, {"year": 2010, "month": 9, "date": 1, "utc": true}, {"year": 2010, "month": 12, "date": 1, "utc": true}, {"year": 2011, "month": 3, "date": 1, "utc": true}], "labelExpr": "lower(utcFormat(datum.value, '%b-%y'))", "ticks": false, "labelPadding": 17}}},
     "layer": [
       {"transform": [{"filter": "datum.s === 'MCU-Stocks'"}], "mark": {"type": "line", "strokeWidth": 3, "clip": true},
        "encoding": {"y": {"field": "v", "type": "quantitative", "scale": {"domain": [50000, 650000], "nice": false, "zero": false}, "axis": {"title": null, "orient": "left", "values": [50000, 150000, 250000, 350000, 450000, 550000, 650000], "labelExpr": "replace(format(datum.value, '.2f'), '.', ',')", "tickSize": 4, "labelPadding": 12}},
         "color": {"field": "s", "type": "nominal", "scale": {"domain": ["MCU3", "MCU-Stocks"], "range": ["#F4A023", "#17375E"]}, "legend": {"title": null, "legendX": 31, "legendY": 254, "symbolSize": 1444, "columnPadding": 1}}}},
       {"transform": [{"filter": "datum.s === 'MCU3'"}], "mark": {"type": "line", "strokeWidth": 3, "clip": true},
        "encoding": {"y": {"field": "v", "type": "quantitative", "scale": {"domain": [2800, 9500], "nice": false, "zero": false}, "axis": {"title": null, "orient": "right", "values": [2800, 3800, 4800, 5800, 6800, 7800, 8800], "labelExpr": "replace(format(datum.value, '.2f'), '.', ',')", "tickSize": 4, "labelPadding": 13}},
         "color": {"field": "s", "type": "nominal", "scale": {"domain": ["MCU3", "MCU-Stocks"], "range": ["#F4A023", "#17375E"]}, "legend": {"title": null, "legendX": 31, "legendY": 254, "symbolSize": 1444, "columnPadding": 1}}}}
     ],
     "resolve": {"scale": {"y": "independent"}}},
    {"width": 0, "height": 234, "data": {"values": []}, "mark": "point"},
    {"width": 272, "height": 221, "data": {"name": "niR"},
     "encoding": {"x": {"field": "d", "type": "temporal", "scale": {"type": "utc", "domain": [{"year": 2010, "month": 1, "date": 30, "utc": true}, {"year": 2011, "month": 3, "date": 2, "utc": true}]}, "axis": {"title": null, "values": [{"year": 2010, "month": 3, "date": 1, "utc": true}, {"year": 2010, "month": 6, "date": 1, "utc": true}, {"year": 2010, "month": 9, "date": 1, "utc": true}, {"year": 2010, "month": 12, "date": 1, "utc": true}, {"year": 2011, "month": 3, "date": 1, "utc": true}], "labelExpr": "lower(utcFormat(datum.value, '%b-%y'))", "ticks": false, "labelPadding": 17}}},
     "layer": [
       {"transform": [{"filter": "datum.s === 'MNI-Stocks'"}], "mark": {"type": "line", "strokeWidth": 3, "clip": true},
        "encoding": {"y": {"field": "v", "type": "quantitative", "scale": {"domain": [0, 180000], "nice": false, "zero": false}, "axis": {"title": null, "orient": "left", "values": [0, 20000, 40000, 60000, 80000, 100000, 120000, 140000, 160000, 180000], "labelExpr": "replace(format(datum.value, '.2f'), '.', ',')", "tickSize": 4, "labelPadding": 11}},
         "color": {"field": "s", "type": "nominal", "scale": {"domain": ["MNI3", "MNI-Stocks"], "range": ["#F4A023", "#17375E"]}, "legend": {"title": null, "legendX": 43, "legendY": 260, "symbolSize": 1444, "columnPadding": 1}}}},
       {"transform": [{"filter": "datum.s === 'MNI3'"}], "mark": {"type": "line", "strokeWidth": 3, "clip": true},
        "encoding": {"y": {"field": "v", "type": "quantitative", "scale": {"domain": [8000, 33000], "nice": false, "zero": false}, "axis": {"title": null, "orient": "right", "values": [8000, 13000, 18000, 23000, 28000, 33000], "labelExpr": "replace(format(datum.value, '.2f'), '.', ',')", "tickSize": 4, "labelPadding": 12}},
         "color": {"field": "s", "type": "nominal", "scale": {"domain": ["MNI3", "MNI-Stocks"], "range": ["#F4A023", "#17375E"]}, "legend": {"title": null, "legendX": 43, "legendY": 260, "symbolSize": 1444, "columnPadding": 1}}}}
     ],
     "resolve": {"scale": {"y": "independent"}}}
  ]},
  {"width": 8, "height": 0, "data": {"values": []}, "mark": "point"},
  {"spacing": 0, "bounds": "flush", "resolve": {"scale": {"color": "independent"}, "legend": {"color": "independent"}}, "vconcat": [
    {"width": 0, "height": 177, "data": {"values": []}, "mark": "point"},
    {"width": 271, "height": 221, "data": {"name": "alR"},
     "encoding": {"x": {"field": "d", "type": "temporal", "scale": {"type": "utc", "domain": [{"year": 2010, "month": 2, "date": 3, "utc": true}, {"year": 2011, "month": 3, "date": 2, "utc": true}]}, "axis": {"title": null, "values": [{"year": 2010, "month": 3, "date": 1, "utc": true}, {"year": 2010, "month": 6, "date": 1, "utc": true}, {"year": 2010, "month": 9, "date": 1, "utc": true}, {"year": 2010, "month": 12, "date": 1, "utc": true}, {"year": 2011, "month": 3, "date": 1, "utc": true}], "labelExpr": "lower(utcFormat(datum.value, '%b-%y'))", "ticks": false, "labelPadding": 17}}},
     "layer": [
       {"transform": [{"filter": "datum.s === 'MAL-Stocks'"}], "mark": {"type": "line", "strokeWidth": 3, "clip": true},
        "encoding": {"y": {"field": "v", "type": "quantitative", "scale": {"domain": [650000, 5150000], "nice": false, "zero": false}, "axis": {"title": null, "orient": "left", "values": [650000, 1150000, 1650000, 2150000, 2650000, 3150000, 3650000, 4150000, 4650000, 5150000], "labelExpr": "replace(format(datum.value, '.2f'), '.', ',')", "tickSize": 4, "labelPadding": 12}},
         "color": {"field": "s", "type": "nominal", "scale": {"domain": ["MAL3", "MAL-Stocks"], "range": ["#F4A023", "#17375E"]}, "legend": {"title": null, "legendX": 35, "legendY": 252, "symbolSize": 1444, "columnPadding": 1}}}},
       {"transform": [{"filter": "datum.s === 'MAL3'"}], "mark": {"type": "line", "strokeWidth": 3, "clip": true},
        "encoding": {"y": {"field": "v", "type": "quantitative", "scale": {"domain": [1200, 2800], "nice": false, "zero": false}, "axis": {"title": null, "orient": "right", "values": [1200, 1400, 1600, 1800, 2000, 2200, 2400, 2600, 2800], "labelExpr": "replace(format(datum.value, '.2f'), '.', ',')", "tickSize": 4, "labelPadding": 12}},
         "color": {"field": "s", "type": "nominal", "scale": {"domain": ["MAL3", "MAL-Stocks"], "range": ["#F4A023", "#17375E"]}, "legend": {"title": null, "legendX": 35, "legendY": 252, "symbolSize": 1444, "columnPadding": 1}}}}
     ],
     "resolve": {"scale": {"y": "independent"}}}
  ]}
]
}
